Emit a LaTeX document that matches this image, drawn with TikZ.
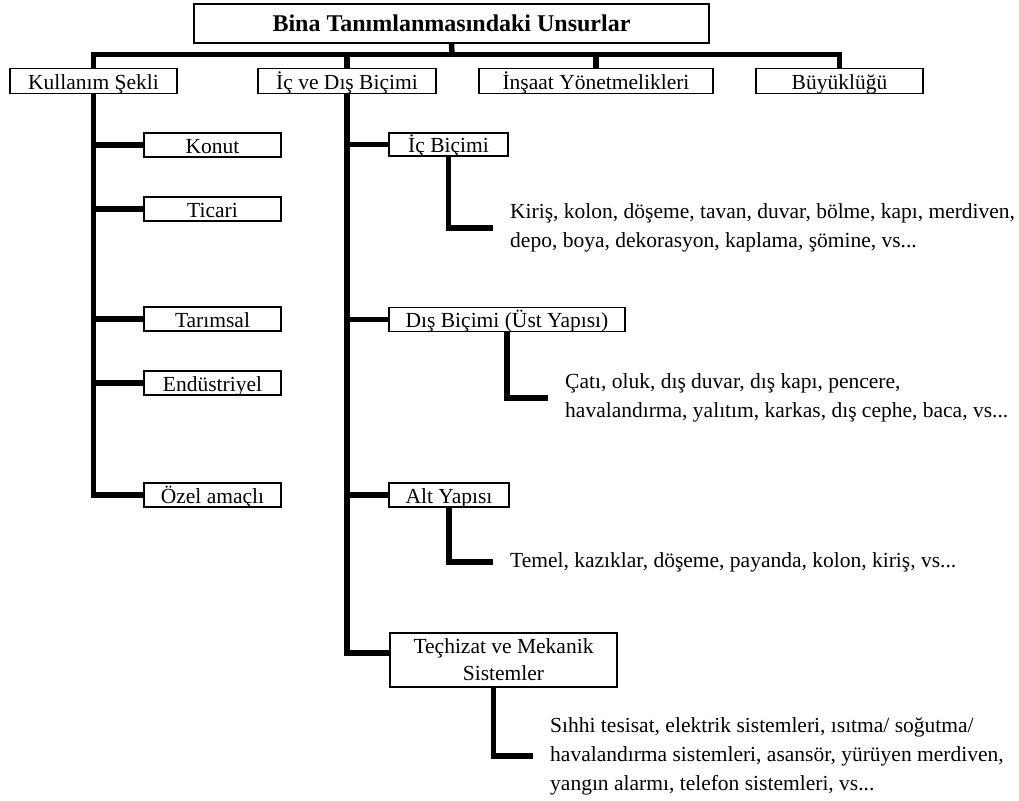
\documentclass[tikz,border=0pt]{standalone}
\usepackage{fontspec}
\setmainfont{Liberation Serif}
\usetikzlibrary{calc}
\begin{document}
\begin{tikzpicture}[x=1pt,y=-1pt,
  box/.style={draw, line width=1.6pt, inner sep=0pt, align=center,
    font=\fontsize{21.5}{27}\selectfont},
  % single-line boxes: text sits just above the lower border
  cell/.style={box, minimum height=#1, text height=#1-4pt, text depth=4pt},
  bar/.style={line width=5.5pt, line join=miter, line cap=butt},
  note/.style={anchor=west, inner xsep=17pt, inner ysep=0pt, align=left,
    font=\fontsize{21.5}{29}\selectfont}]
\useasboundingbox (0,0) rectangle (1019,800);

% title
\node[box, font=\fontsize{24}{28}\selectfont\bfseries,
  minimum width=515, minimum height=39] (title) at (451.5,23.5)
  {Bina Tanımlanmasındaki Unsurlar};

% first level
\node[cell=25, minimum width=167] (kul) at (93.5,80.8) {Kullanım Şekli};
\node[cell=25, minimum width=178] (icdis) at (347,80.8) {İç ve Dış Biçimi};
\node[cell=25, minimum width=234] (insaat) at (596,80.8) {İnşaat Yönetmelikleri};
\node[cell=25, minimum width=167] (buyuk) at (839.5,80.8) {Büyüklüğü};

\coordinate (bus) at (452,54.5);
\draw[bar] (title.south) -- (bus);
\draw[bar] (kul.north) |- (bus) -| (buyuk.north);
\draw[bar] (icdis.north) -- (icdis.north |- bus);
\draw[bar] (insaat.north) -- (insaat.north |- bus);

% usage types
\node[cell=24, minimum width=137] (konut) at (212.5,145) {Konut};
\node[cell=24, minimum width=137] (ticari) at (212.5,209) {Ticari};
\node[cell=24, minimum width=137] (tarim) at (212.5,319) {Tarımsal};
\node[cell=24, minimum width=137] (endus) at (212.5,383) {Endüstriyel};
\node[cell=24, minimum width=137] (ozel) at (212.5,495) {Özel amaçlı};

\draw[bar] (kul.south) |- (ozel.west);
\foreach \n in {konut,ticari,tarim,endus}
  \draw[bar] (\n.west) -- (\n.west -| kul.south);

% interior / exterior form
\node[cell=23, minimum width=119] (ic1) at (448.5,144.5) {İç Biçimi};
\node[cell=24, minimum width=236] (dis) at (507,319.5) {Dış Biçimi (Üst Yapısı)};
\node[cell=24, minimum width=120] (alt) at (449,495) {Alt Yapısı};
\node[box, minimum width=227, minimum height=54] (tech) at (503.5,660)
  {Teçhizat ve Mekanik\\Sistemler};

\draw[bar] (icdis.south) |- ($(tech.west)+(0,-7)$);
\foreach \n in {ic1,dis,alt}
  \draw[bar] (\n.west) -- (\n.west -| icdis.south);

% item lists
\node[note] (t1) at (493,228)
  {Kiriş, kolon, döşeme, tavan, duvar, bölme, kapı, merdiven,\\depo, boya, dekorasyon, kaplama, şömine, vs...};
\node[note] (t2) at (548,398)
  {Çatı, oluk, dış duvar, dış kapı, pencere,\\havalandırma, yalıtım, karkas, dış cephe, baca, vs...};
\node[note] (t3) at (493,562)
  {Temel, kazıklar, döşeme, payanda, kolon, kiriş, vs...};
\node[note] (t4) at (533,756)
  {Sıhhi tesisat, elektrik sistemleri, ısıtma/ soğutma/\\havalandırma sistemleri, asansör, yürüyen merdiven,\\yangın alarmı, telefon sistemleri, vs...};

\draw[bar] (ic1.south) |- (t1.west);
\draw[bar] (dis.south) |- (t2.west);
\draw[bar] (alt.south) |- (t3.west);
\draw[bar] ($(tech.south)+(-10,0)$) |- (t4.west);
\end{tikzpicture}
\end{document}
